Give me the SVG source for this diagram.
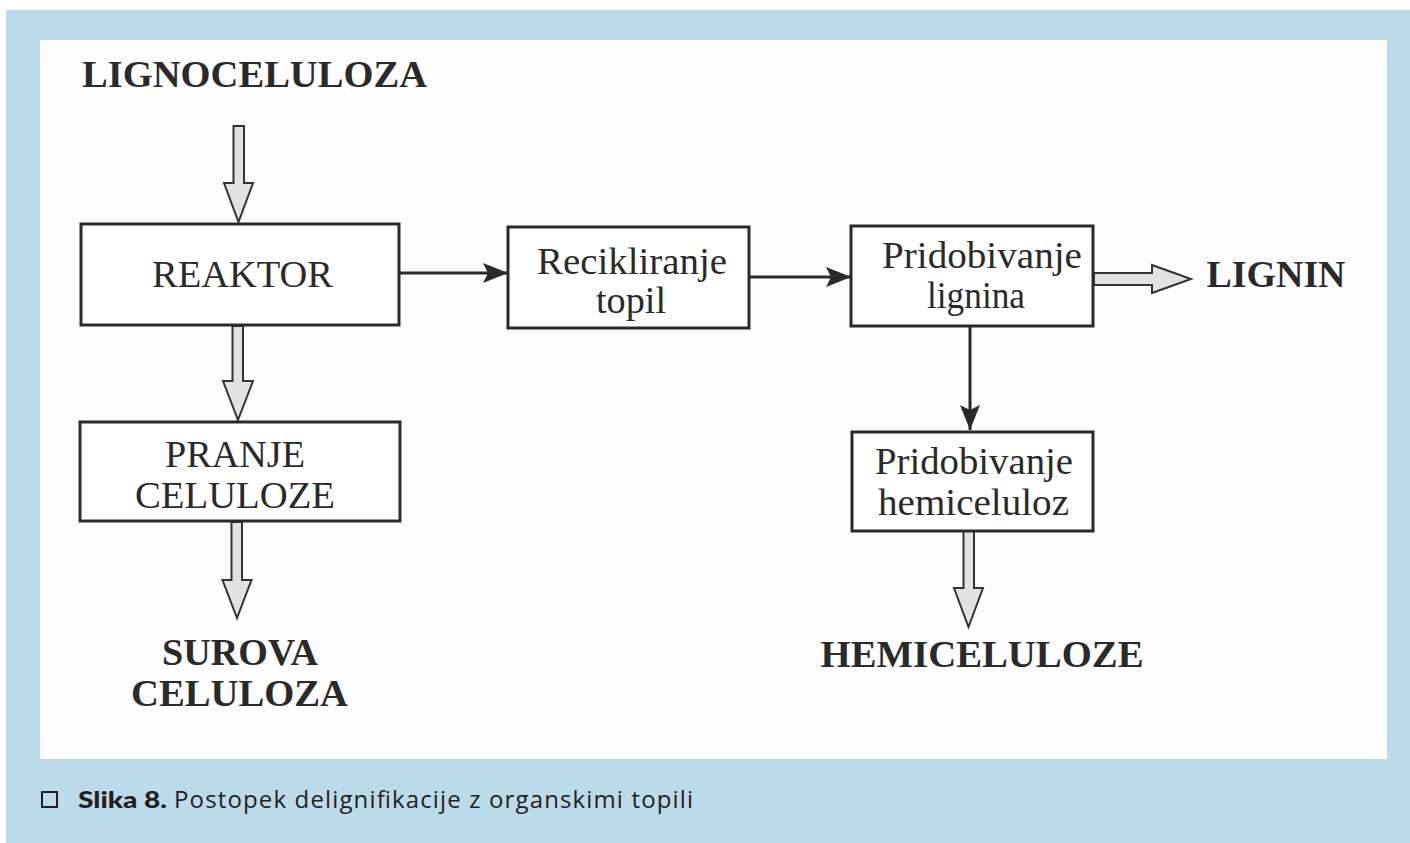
<svg xmlns="http://www.w3.org/2000/svg" width="1410" height="843" viewBox="0 0 1410 843">
<defs>
<style>
.box{fill:#fff;stroke:#2a2a2a;stroke-width:3}
.t{font-family:"Liberation Serif","Times New Roman",serif;font-size:37px;fill:#2a2a2a;text-anchor:middle}
.b{font-family:"Liberation Serif","Times New Roman",serif;font-size:37px;font-weight:bold;fill:#2a2a2a;text-anchor:middle}
.hol{fill:#e2e2e2;stroke:#333;stroke-width:2;stroke-linejoin:miter}
.ln{fill:none;stroke:#2a2a2a;stroke-width:3}
.cap{font-family:"Open Sans","Liberation Sans",sans-serif;font-size:24px;fill:#231f20}
</style>
<marker id="ahs" viewBox="0 0 25 20" refX="25" refY="10" markerWidth="25" markerHeight="20" markerUnits="userSpaceOnUse" orient="auto">
<path d="M0,0 L25,10 L0,20 L5,10 z" fill="#2a2a2a"/>
</marker>
</defs>
<rect x="0" y="0" width="1410" height="843" fill="#fff"/>
<rect x="6" y="10" width="1404" height="833" fill="#bcdbea"/>
<rect x="40" y="40" width="1347" height="719" fill="#fdfdfd"/>

<g id="connectors">
<path class="hol" d="M233.5,126 H244 V183 H253 L238.5,222 L224,183 H233.5 Z"/>
<path class="hol" d="M232.5,326 H243 V381 H253 L238,420 L223,381 H232.5 Z"/>
<path class="hol" d="M231.5,522 H242 V580 H251.5 L237,618 L222.5,580 H231.5 Z"/>
<path class="hol" d="M1094,273 H1152 V265 L1191,279 L1152,293 V285 H1094 Z"/>
<path class="hol" d="M963.5,531 H974 V588 H983 L968.5,627 L954,588 H963.5 Z"/>
<line class="ln" x1="400" y1="273" x2="508" y2="273" marker-end="url(#ahs)"/>
<line class="ln" x1="749" y1="277" x2="851" y2="277" marker-end="url(#ahs)"/>
<line class="ln" x1="970" y1="327" x2="970" y2="430" marker-end="url(#ahs)"/>
</g>

<g id="lignoceluloza"><text class="b" x="254.5" y="87" textLength="345" lengthAdjust="spacingAndGlyphs">LIGNOCELULOZA</text></g>
<g id="reaktor"><rect class="box" x="81" y="224" width="318" height="101"/><text class="t" x="242.5" y="287" textLength="181" lengthAdjust="spacingAndGlyphs">REAKTOR</text></g>
<g id="pranje"><rect class="box" x="80" y="422" width="320" height="99"/><text class="t" x="235" y="467" textLength="140" lengthAdjust="spacingAndGlyphs">PRANJE</text><text class="t" x="235" y="508" textLength="200" lengthAdjust="spacingAndGlyphs">CELULOZE</text></g>
<g id="surova"><text class="b" x="240" y="665" textLength="156" lengthAdjust="spacingAndGlyphs">SUROVA</text><text class="b" x="239.5" y="706" textLength="217" lengthAdjust="spacingAndGlyphs">CELULOZA</text></g>
<g id="recikliranje"><rect class="box" x="508" y="227" width="241" height="101"/><text class="t" x="632" y="274" textLength="190" lengthAdjust="spacingAndGlyphs">Recikliranje</text><text class="t" x="631" y="313" textLength="70" lengthAdjust="spacingAndGlyphs">topil</text></g>
<g id="lignina"><rect class="box" x="851" y="226" width="242" height="100"/><text class="t" x="982" y="268" textLength="200" lengthAdjust="spacingAndGlyphs">Pridobivanje</text><text class="t" x="976" y="308" textLength="98" lengthAdjust="spacingAndGlyphs">lignina</text></g>
<g id="lignin"><text class="b" x="1276" y="287" textLength="139" lengthAdjust="spacingAndGlyphs">LIGNIN</text></g>
<g id="hemiceluloz"><rect class="box" x="852" y="432" width="241" height="99"/><text class="t" x="974" y="474" textLength="198" lengthAdjust="spacingAndGlyphs">Pridobivanje</text><text class="t" x="973.5" y="515" textLength="191" lengthAdjust="spacingAndGlyphs">hemiceluloz</text></g>
<g id="hemiceluloze"><text class="b" x="982" y="667" textLength="323" lengthAdjust="spacingAndGlyphs">HEMICELULOZE</text></g>

<g id="caption">
<rect x="42" y="792" width="15" height="15" fill="none" stroke="#231f20" stroke-width="2"/>
<text x="78" y="808" font-family="Lato,'Open Sans',sans-serif" font-weight="900" font-size="23" fill="#231f20" textLength="89" lengthAdjust="spacingAndGlyphs">Slika 8.</text>
<text class="cap" x="174" y="808" textLength="519" lengthAdjust="spacing">Postopek delignifikacije z organskimi topili</text>
</g>
</svg>
